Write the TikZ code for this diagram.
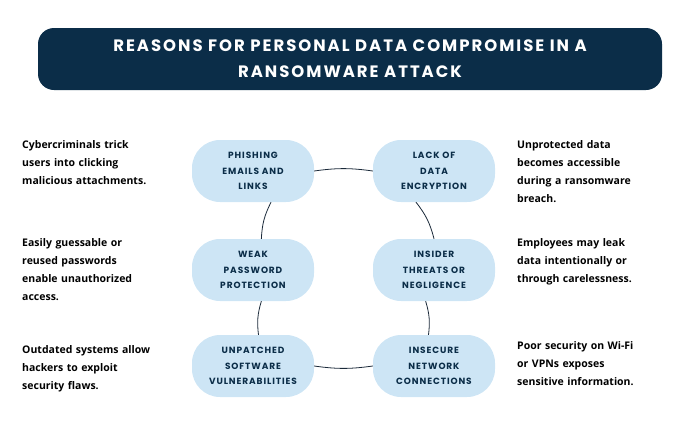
\documentclass[tikz,border=0pt]{standalone}
\usepackage{fontspec}
\setmainfont{Open Sans}
\newfontfamily\titlefont[LetterSpace=12]{Poppins}
\newfontfamily\boxfont[LetterSpace=10]{Poppins}
\usetikzlibrary{positioning}
\definecolor{navy}{HTML}{0B2D48}
\definecolor{paleblue}{HTML}{CDE5F5}
\definecolor{ink}{HTML}{1B2A3A}
\tikzset{
  reason/.style={fill=paleblue, rounded corners=28pt, minimum width=122pt, minimum height=62pt,
    align=center, text=navy, font=\boxfont\bfseries\fontsize{9}{15.5}\selectfont, inner sep=2pt},
  note/.style={anchor=north west, align=left, text width=165pt, text=black,
    font=\bfseries\fontsize{10.5}{18}\selectfont, inner sep=0pt},
  ring/.style={ink, thick}
}
\begin{document}
\begin{tikzpicture}[x=1pt,y=-1pt]
\useasboundingbox (0,0) rectangle (700,426);
% Title
\node[fill=navy, rounded corners=16pt, minimum width=624pt, minimum height=62pt, align=center,
  text=white, font=\titlefont\bfseries\fontsize{16.5}{26}\selectfont] (title) at (350,59)
  {REASONS FOR PERSONAL DATA COMPROMISE IN A\\RANSOMWARE ATTACK};

% Reasons
\node[reason] (phish) at (253,171) {PHISHING\\EMAILS AND\\LINKS};
\node[reason] (lack) at (434,171) {LACK OF\\DATA\\ENCRYPTION};
\node[reason] (weak) at (253,270) {WEAK\\PASSWORD\\PROTECTION};
\node[reason] (insider) at (434,270) {INSIDER\\THREATS OR\\NEGLIGENCE};
\node[reason] (unpatched) at (253,366) {UNPATCHED\\SOFTWARE\\VULNERABILITIES};
\node[reason] (insecure) at (434,366) {INSECURE\\NETWORK\\CONNECTIONS};

% Ring
\draw[ring] (phish.east) to[bend left=8] (lack.west);
\draw[ring] (lack.-120) to[bend left=12] (insider.north);
\draw[ring] (insider.-105) to[bend left=12] (insecure.100);
\draw[ring] (insecure.west) to[bend left=8] (unpatched.east);
\draw[ring] (unpatched.80) to[bend left=12] (weak.-75);
\draw[ring] (weak.75) to[bend left=12] (phish.-60);

% Notes
\node[note] (n1) at (22,140) {Cybercriminals trick\\users into clicking\\malicious attachments.};
\node[note] (n2) at (22,238) {Easily guessable or\\reused passwords\\enable unauthorized\\access.};
\node[note] (n3) at (22,345) {Outdated systems allow\\hackers to exploit\\security flaws.};
\node[note] (n4) at (517,140) {Unprotected data\\becomes accessible\\during a ransomware\\breach.};
\node[note] (n5) at (517,238) {Employees may leak\\data intentionally or\\through carelessness.};
\node[note] (n6) at (517,341) {Poor security on Wi-Fi\\or VPNs exposes\\sensitive information.};
\end{tikzpicture}
\end{document}
